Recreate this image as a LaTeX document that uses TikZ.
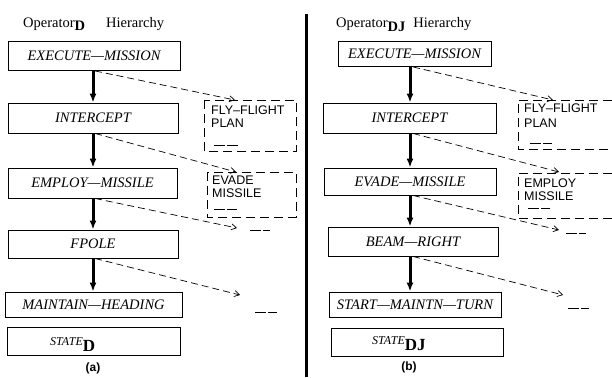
\documentclass[tikz,border=0pt]{standalone}
\usepackage{fontspec}
\setmainfont{Liberation Serif}
\setsansfont{Liberation Sans}
\usetikzlibrary{arrows.meta}
\begin{document}
\begin{tikzpicture}[x=1pt,y=-1pt,
  opbox/.style={draw, line width=0.9pt, inner sep=0pt, font=\fontsize{14.5}{14.5}\selectfont\itshape},
  planbox/.style={line width=0.9pt, dash pattern=on 9pt off 5pt},
  heavy/.style={line width=3pt, -{Latex[length=9pt,width=7pt]}},
  dasharr/.style={line width=0.7pt, dash pattern=on 7pt off 4pt, -{Straight Barb[length=5pt,width=6pt]}},
  ptext/.style={font=\fontsize{12.5}{13}\selectfont\sffamily, anchor=base west, inner sep=0pt},
  blank/.style={line width=0.8pt, dash pattern=on 11pt off 2pt},
  title/.style={font=\fontsize{14.5}{14.5}\selectfont, anchor=base west, inner sep=0pt},
  caption/.style={font=\fontsize{12}{12}\selectfont\sffamily\bfseries, inner sep=0pt},
  statelbl/.style={anchor=base west, inner sep=0pt},
]
\useasboundingbox (0,0) rectangle (612,377);
\fill[white] (0,0) rectangle (612,377);

% titles
\node[title] (tl) at (23,28) {Operator\raisebox{-3pt}{\fontsize{14.5}{14.5}\selectfont\bfseries D}\hspace{21pt}Hierarchy};
\node[title] (tr) at (336,28) {Operator\raisebox{-4pt}{\fontsize{14.5}{14.5}\selectfont\bfseries DJ}\hspace{8pt}Hierarchy};

% divider
\coordinate (dvt) at (306.5,14);
\coordinate (dvb) at (306.5,377);
\draw[line width=3.5pt] (dvt) -- (dvb);

% left boxes
\node[opbox, minimum width=172pt, minimum height=29pt] (em) at (94,56) {EXECUTE—MISSION};
\node[opbox, minimum width=170pt, minimum height=30pt] (ic) at (93,118) {INTERCEPT};
\node[opbox, minimum width=169pt, minimum height=30pt] (emp) at (92.5,183) {EMPLOY—MISSILE};
\node[opbox, minimum width=170pt, minimum height=28pt] (fp) at (93,244) {FPOLE};
\node[opbox, minimum width=177pt, minimum height=25pt] (mh) at (93.5,304.5) {MAINTAIN—HEADING};
\node[opbox, minimum width=173pt, minimum height=28pt] (st) at (93.5,341) {};
\node[statelbl] (stl) at (50,345) {{\fontsize{12}{12}\selectfont\itshape STATE}\raisebox{-6pt}{\fontsize{17}{17}\selectfont\bfseries D}};
\node[caption] (ca) at (93,368) {(a)};

% right boxes
\node[opbox, minimum width=153pt, minimum height=25pt] (em2) at (414.5,54) {EXECUTE—MISSION};
\node[opbox, minimum width=173pt, minimum height=30pt] (ic2) at (409.5,118) {INTERCEPT};
\node[opbox, minimum width=172pt, minimum height=27pt] (ev2) at (410,181.5) {EVADE—MISSILE};
\node[opbox, minimum width=170pt, minimum height=29pt] (br2) at (413,241.5) {BEAM—RIGHT};
\node[opbox, minimum width=172pt, minimum height=25pt] (sm2) at (415,304.5) {START—MAINTN—TURN};
\node[opbox, minimum width=172pt, minimum height=28pt] (st2) at (417,342) {};
\node[statelbl] (stl2) at (372,344) {{\fontsize{12}{12}\selectfont\itshape STATE}\raisebox{-6pt}{\fontsize{17}{17}\selectfont\bfseries DJ}};
\node[caption] (cb) at (409,367) {(b)};

% heavy arrows
\coordinate (axl) at (93,0);
\draw[heavy] (em.south -| axl) -- (ic.north -| axl);
\draw[heavy] (ic.south -| axl) -- (emp.north -| axl);
\draw[heavy] (emp.south -| axl) -- (fp.north -| axl);
\draw[heavy] (fp.south -| axl) -- (mh.north -| axl);
\coordinate (axr) at (410,0);
\draw[heavy] (em2.south -| axr) -- (ic2.north -| axr);
\draw[heavy] (ic2.south -| axr) -- (ev2.north -| axr);
\draw[heavy] (ev2.south -| axr) -- (br2.north -| axr);
\draw[heavy] (br2.south -| axr) -- (sm2.north -| axr);

% dashed plan boxes (left)
\draw[planbox] (204,100) rectangle (296,151);
\node[ptext] (f1) at (211,114) {FLY--FLIGHT};
\node[ptext] (f2) at (211,127) {PLAN};
\draw[blank] (214,145) -- (238,145);
\draw[planbox] (207,172) rectangle (296,217);
\node[ptext] (v1) at (212,184) {EVADE};
\node[ptext] (v2) at (212,197) {MISSILE};
\draw[blank] (214,209) -- (237,209);
\draw[blank] (250,230) -- (270,230);
\draw[blank] (255,312) -- (277,312);

% dashed plan boxes (right)
\draw[planbox] (612,100) -- (518,100) -- (518,149) -- (612,149);
\node[ptext] (g1) at (524,113) {FLY--FLIGHT};
\node[ptext] (g2) at (524,127) {PLAN};
\draw[blank] (530,143) -- (552,143);
\draw[planbox] (612,173) -- (518,173) -- (518,218) -- (612,218);
\node[ptext] (h1) at (524,187) {EMPLOY};
\node[ptext] (h2) at (524,200) {MISSILE};
\draw[blank] (528,208) -- (550,208);
\draw[blank] (566,233) -- (586,233);
\draw[blank] (568,308) -- (589,308);

% dashed arrows left
\coordinate (a1) at (235,100);
\coordinate (a2) at (236,172);
\coordinate (a3) at (237,228);
\coordinate (a4) at (240,295);
\draw[dasharr] ([xshift=2pt]em.south -| axl) -- (a1);
\draw[dasharr] ([xshift=2pt]ic.south -| axl) -- (a2);
\draw[dasharr] ([xshift=2pt]emp.south -| axl) -- (a3);
\draw[dasharr] ([xshift=2pt]fp.south -| axl) -- (a4);
% dashed arrows right
\coordinate (b1) at (553,100);
\coordinate (b2) at (559,172);
\coordinate (b3) at (559,230);
\coordinate (b4) at (563,295);
\draw[dasharr] ([xshift=3pt]em2.south -| axr) -- (b1);
\draw[dasharr] ([xshift=3pt]ic2.south -| axr) -- (b2);
\draw[dasharr] ([xshift=3pt]ev2.south -| axr) -- (b3);
\draw[dasharr] ([xshift=3pt]br2.south -| axr) -- (b4);
\end{tikzpicture}
\end{document}
